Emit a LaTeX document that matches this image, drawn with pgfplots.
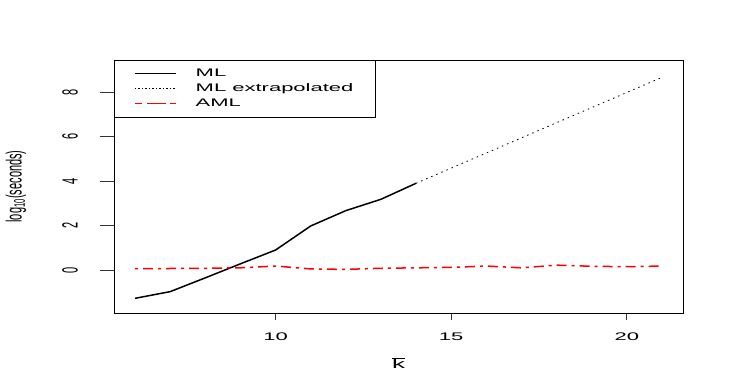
\documentclass[border=0pt]{standalone}
\usepackage{fontspec}
\setmainfont{Liberation Sans}[FakeStretch=2.0]
\newfontfamily\plainsf{Liberation Sans}
\usepackage{graphicx}
\usepackage{pgfplots}
\pgfplotsset{compat=1.18}
% legend sample drawn with plain pgf calls: colour, width, dash
\newcommand\legendline[3]{%
  \pgfsetlinewidth{#2}\pgfsetstrokecolor{#1}#3%
  \pgfpathmoveto{\pgfpointorigin}\pgfpathlineto{\pgfpoint{41pt}{0pt}}\pgfusepath{stroke}}

\begin{document}
\begin{tikzpicture}
\path[use as bounding box] (0,0) rectangle (747pt,388pt);
\begin{axis}[
  at={(114pt,75pt)}, anchor=south west,
  scale only axis, width=569pt, height=253pt,
  xmin=5.4, xmax=21.6, ymin=-1.93, ymax=9.44,
  axis line style={black, line width=0.7pt},
  xtick={10,15,20}, ytick={0,2,4,6,8},
  xtick pos=bottom, ytick pos=left,
  tick align=outside, major tick length=7pt,
  xtick style={black!80, line width=0.7pt},
  ytick style={draw=none},
  /pgf/number format/assume math mode=true,
  tick label style={font=\fontsize{11}{13}\selectfont},
  xticklabel style={anchor=center, yshift=-17pt},
  yticklabel style={anchor=center, xshift=-37pt},
  yticklabel={\rotatebox{90}{\scalebox{1}[2]{\plainsf\pgfmathprintnumber{\tick}}}},
  xlabel={$\overline{\mbox{k}}$},
  xlabel style={font=\fontsize{13}{15}\selectfont, at={(axis description cs:0.5,0)}, anchor=center, yshift=-50pt},
  ylabel={\rotatebox{90}{\scalebox{1}[2]{\plainsf log\textsubscript{10}(seconds)}}},
  ylabel style={rotate=-90, font=\fontsize{11}{13}\selectfont, at={(axis description cs:0,0.5)}, anchor=center, xshift=-98pt},
  extra description/.code={
    \foreach \v in {0,2,4,6,8}
      \draw[black!80, line width=0.7pt] (axis cs:5.4,\v) -- ++(-14pt,0);
  },
  legend cell align=left,
  legend style={at={(0,1)}, anchor=north west,
    font=\fontsize{11}{13}\selectfont, inner xsep=20pt, inner ysep=7pt,
    row sep=1.5pt, /tikz/every odd column/.append style={column sep=17pt}},
]
\addlegendimage{legend image code/.code={\legendline{black}{1.5pt}{}}}
\addlegendentry{ML}
\addlegendimage{legend image code/.code={\legendline{black}{0.8pt}{\pgfsetdash{{1.5pt}{2pt}}{0pt}}}}
\addlegendentry{ML extrapolated}
\addlegendimage{legend image code/.code={\legendline{red}{1.5pt}{\pgfsetdash{{7pt}{5pt}{19pt}{4pt}{6pt}{10pt}}{0pt}}}}
\addlegendentry{AML}
\addplot[forget plot, black, line width=1.5pt] coordinates {
  (6,-1.27) (7,-0.97) (8,-0.35) (9,0.28) (10,0.90) (11,1.98) (12,2.67) (13,3.18) (14,3.90)
};
\addplot[forget plot, black, line width=0.8pt, dash pattern=on 1.5pt off 4pt] coordinates {
  (14,3.90) (15,4.58) (16,5.26) (17,5.94) (18,6.62) (19,7.30) (20,7.98) (21,8.66)
};
\addplot[forget plot, red, line width=1.5pt, dash pattern=on 3pt off 5pt on 10pt off 5pt] coordinates {
  (6,0.06) (7,0.07) (8,0.08) (9,0.10) (10,0.18) (11,0.05) (12,0.03) (13,0.08) (14,0.10)
  (15,0.12) (16,0.18) (17,0.10) (18,0.22) (19,0.17) (20,0.15) (21,0.18)
};
\end{axis}
\end{tikzpicture}
\end{document}
